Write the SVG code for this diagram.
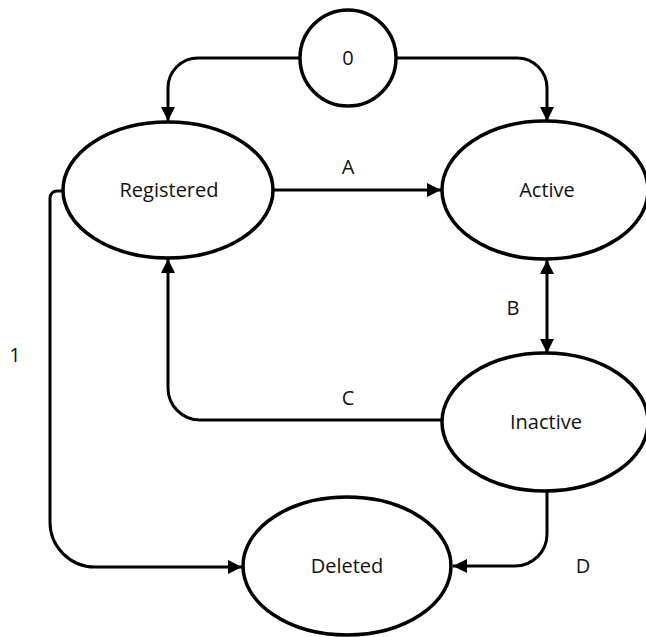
<svg xmlns="http://www.w3.org/2000/svg" width="646" height="637" viewBox="0 0 646 637">
<style>
.node{fill:#fff;stroke:#000;stroke-width:3.5}
.lbl{font-family:"Open Sans","Liberation Sans",sans-serif;font-size:20px;fill:#111;text-anchor:middle}
.edge{fill:none;stroke:#000;stroke-width:3}
</style>
<defs>
<marker id="ah" viewBox="0 0 14 14" refX="14" refY="7" markerWidth="14" markerHeight="14" markerUnits="userSpaceOnUse" orient="auto-start-reverse">
<path d="M0,0 L14,7 L0,14 Z" fill="#000"/>
</marker>
</defs>
<rect width="646" height="637" fill="#fff"/>
<g id="connectors">
<path class="edge" d="M300,58 H198 A30,30 0 0 0 168,88 V121" marker-end="url(#ah)"/>
<path class="edge" d="M396,58 H517 A30,30 0 0 1 547,88 V121" marker-end="url(#ah)"/>
<path class="edge" d="M273,190 H441" marker-end="url(#ah)"/>
<path class="edge" d="M547,260 V353" marker-start="url(#ah)" marker-end="url(#ah)"/>
<path class="edge" d="M442,420 H200 A32,32 0 0 1 168,388 V259" marker-end="url(#ah)"/>
<path class="edge" d="M63,191 H57 A7,7 0 0 0 50,198 V522 A45,45 0 0 0 95,567 H242" marker-end="url(#ah)"/>
<path class="edge" d="M547,491 V534 A32,32 0 0 1 515,566 H453" marker-end="url(#ah)"/>
<text class="lbl" x="348" y="174">A</text>
<text class="lbl" x="513" y="315">B</text>
<text class="lbl" x="348" y="405">C</text>
<text class="lbl" x="583" y="573">D</text>
<text class="lbl" x="15" y="362">1</text>
</g>
<g id="n0"><circle class="node" cx="348" cy="58" r="48"/><text class="lbl" x="348" y="65">0</text></g>
<g id="registered"><ellipse class="node" cx="168" cy="190" rx="105" ry="68"/><text class="lbl" x="169" y="197">Registered</text></g>
<g id="active"><ellipse class="node" cx="545" cy="190" rx="103" ry="69"/><text class="lbl" x="547" y="197">Active</text></g>
<g id="inactive"><ellipse class="node" cx="545" cy="422" rx="103" ry="69"/><text class="lbl" x="546" y="429">Inactive</text></g>
<g id="deleted"><ellipse class="node" cx="347" cy="566" rx="104" ry="69"/><text class="lbl" x="347" y="573">Deleted</text></g>
</svg>
